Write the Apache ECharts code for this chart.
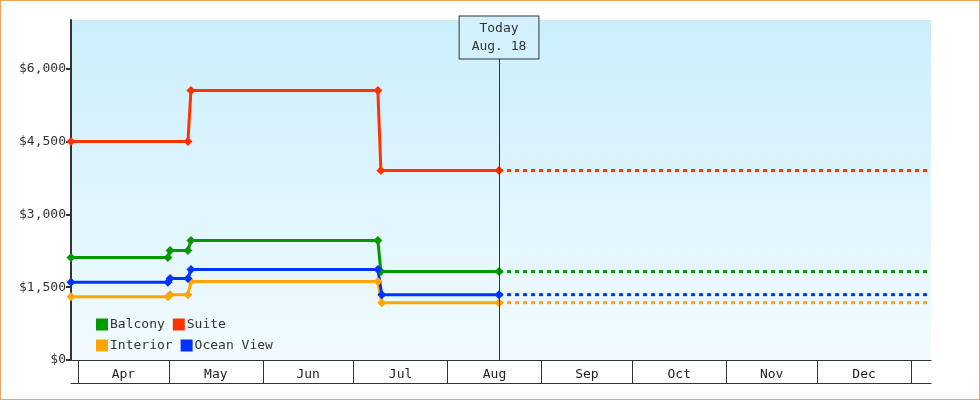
<!DOCTYPE html>
<html><head><meta charset="utf-8">
<script src="https://cdn.jsdelivr.net/npm/echarts@6/dist/echarts.min.js"></script>
<style>html,body{margin:0;padding:0;background:#fff}#c{width:978px;height:398px;border:1px solid #e8a860}</style>
</head><body><div id="c"></div>
<script>
// x values are day-of-year
const monthNames = ['Apr','May','Jun','Jul','Aug','Sep','Oct','Nov','Dec'];
const monthStarts = [91,121,152,182,213,244,274,305,335,366];
const yTicks = [0,1500,3000,4500,6000];
const todayDay = 230, endDay = 372.6, startDay = 88.7;
const balcony = [[88.7,2110],[120.7,2110],[121.4,2255],[127.3,2255],[128.3,2460],[190,2460],[191,1820],[230,1820]];
const suite = [[88.7,4500],[127.3,4500],[128.3,5550],[190,5550],[191,3900],[230,3900]];
const interior = [[88.7,1300],[120.7,1300],[121.4,1345],[127.3,1345],[128.3,1614],[190,1614],[191.3,1180],[230,1180]];
const ocean = [[88.7,1600],[120.7,1600],[121.4,1676],[127.3,1676],[128.3,1862],[190,1862],[191.3,1345],[230,1345]];
const names = ['Balcony','Suite','Interior','Ocean View'];
const colors = ['#009900','#ff3300','#ffa500','#0033ff'];
const sets = [balcony,suite,interior,ocean];
const font = 'DejaVu Sans Mono';
const mids = monthStarts.slice(0,-1).map((s,i)=>(s+monthStarts[i+1])/2);
const series = [];
sets.forEach((d,i)=>{
  series.push({name:names[i],type:'line',data:d,symbol:'diamond',symbolSize:9,
    lineStyle:{width:3,color:colors[i]},itemStyle:{color:colors[i]},z:3,
    markLine: i===0 ? {silent:true,symbol:'none',animation:false,
      lineStyle:{color:'#333',width:1,type:'solid'},
      label:{show:true,position:'end',distance:0,formatter:'Today\nAug. 18',fontFamily:font,fontSize:13,color:'#333',
        backgroundColor:'#d3f1fc',borderColor:'#333',borderWidth:1,padding:[3,12,3,12],lineHeight:18},
      data:[[{coord:[todayDay,0]},{coord:[todayDay,6207]}]]} : undefined});
  series.push({name:names[i],type:'line',data:[[todayDay,d[d.length-1][1]],[endDay,d[d.length-1][1]]],symbol:'none',
    lineStyle:{width:3,type:[4,4],color:colors[i]},z:2});
});
const chart = echarts.init(document.getElementById('c'));
chart.setOption({
  animation:false,
  grid:{left:70,right:48,top:19,bottom:39,show:true,borderWidth:0,
    backgroundColor:{type:'linear',x:0,y:0,x2:0,y2:1,colorStops:[{offset:0,color:'#cbeefc'},{offset:1,color:'#f2fbff'}]}},
  legend:{data:names,left:90,top:312,width:200,icon:'rect',itemWidth:12,itemHeight:12,itemGap:8,
    textStyle:{fontFamily:font,fontSize:13,color:'#333',padding:[0,0,0,-3]}},
  xAxis:[{type:'value',min:startDay,max:endDay,
    axisLine:{show:true,lineStyle:{color:'#333',width:1}},
    axisTick:{show:true,customValues:monthStarts,length:23,inside:false,lineStyle:{color:'#333'}},
    axisLabel:{customValues:mids,formatter:(v)=>monthNames[mids.indexOf(v)]||'',fontFamily:font,fontSize:13,color:'#222',margin:8},
    splitLine:{show:false}},
   {type:'value',min:startDay,max:endDay,position:'bottom',offset:23,
    axisLine:{show:true,lineStyle:{color:'#333',width:1}},axisTick:{show:false},axisLabel:{show:false},splitLine:{show:false}}],
  yAxis:{type:'value',min:0,max:7000,
    axisLine:{show:true,lineStyle:{color:'#333',width:2}},
    axisTick:{show:true,customValues:yTicks,length:5,lineStyle:{color:'#333',width:2}},
    axisLabel:{customValues:yTicks,formatter:(v)=>'$'+v.toLocaleString('en-US'),fontFamily:font,fontSize:13,color:'#333',margin:5},
    splitLine:{show:false}},
  series:series
});
</script></body></html>
